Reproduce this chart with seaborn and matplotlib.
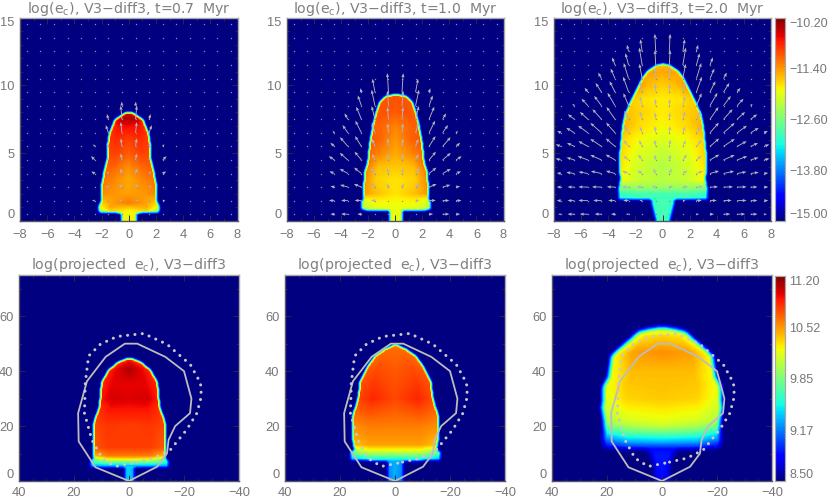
import numpy as np
import matplotlib
matplotlib.use("Agg")
import matplotlib.pyplot as plt
import seaborn as sns

# bubble outlines: height, half width
z_07 = [0, 0.5, 0.6, 1.0, 1.4, 2.5, 3.5, 4.5, 5.5, 6.45, 7.45, 7.8, 7.95, 8]
w_07 = [0.55, 0.55, 2.25, 2.25, 2.05, 2.05, 1.87, 1.63, 1.6, 1.45, 1.05, 0.55, 0.3, 0]
z_10 = [0, 0.7, 0.75, 1.4, 1.5, 2, 3.5, 4.25, 5.7, 7, 7.95, 8.7, 9.2, 9.35]
w_10 = [0.5, 0.5, 2.55, 2.55, 2.4, 2.4, 2.35, 2.1, 1.95, 1.72, 1.5, 1.25, 0.75, 0]
z_20 = [0, 1, 1.5, 1.55, 2.3, 3, 4, 5, 6, 7, 7.95, 8.9, 10, 10.65, 11.15, 11.5, 11.6]
w_20 = [0.55, 0.8, 0.9, 3.3, 3.3, 3.15, 3.25, 3.2, 3.1, 3.0, 2.8, 2.35, 1.8, 1.5, 1.05, 0.5, 0]

y_p1 = [0, 4.6, 4.7, 7.2, 7.6, 11, 20, 23, 26, 31, 35.5, 40, 42.8, 44.3, 44.6]
w_p1 = [2, 2, 14.3, 14.2, 13, 13.1, 13.2, 12.5, 11.2, 10.6, 10.3, 7.9, 4.7, 1.5, 0]
y_p2 = [0, 6.9, 7, 10.3, 10.8, 16, 24.6, 27, 31, 35.8, 41.8, 45.5, 47.9, 49.3, 49.5]
w_p2 = [3, 3, 16.4, 16.4, 15, 15.8, 15.5, 14.5, 13.5, 13, 10.1, 7.4, 3.9, 1, 0]
y_p3 = [0, 5, 9, 11, 11.5, 15, 20, 26, 34.5, 38, 45.5, 47.9, 51.6, 54.6, 55.8, 56.3]
w_p3 = [3, 3, 4, 5.7, 21.3, 21.5, 21, 21.8, 21.5, 19.5, 18.5, 16, 11.8, 8.7, 4, 0]

# colour values inside the bubbles: height, then centre / part way / rim
u_cols = [0, 0.6, 1]
zv_07 = [0, 0.5, 0.7, 1, 1.3, 2, 3, 4, 5, 6, 7, 7.6, 8]
v_07 = [[-11.9, -11.9, -11.9], [-11.9, -11.9, -11.9], [-11.9, -11.7, -12.4], [-11.6, -11.5, -12.0],
        [-11.25, -11.45, -11.7], [-11.45, -11.4, -11.3], [-11.5, -11.3, -11.2], [-11.35, -11.15, -11.1],
        [-11.1, -10.95, -11.0], [-10.95, -10.85, -10.95], [-10.7, -10.7, -10.9], [-10.35, -10.45, -10.8],
        [-10.6, -10.7, -10.9]]
zv_10 = [0, 0.7, 1, 1.5, 2, 3, 4, 5, 6, 7, 8, 9, 9.35]
v_10 = [[-12.0, -12.0, -12.1], [-11.95, -11.95, -12.1], [-11.95, -12.0, -12.3], [-11.9, -11.85, -12.0],
        [-11.8, -11.6, -11.4], [-11.8, -11.7, -11.3], [-11.65, -11.6, -11.2], [-11.5, -11.3, -11.15],
        [-11.4, -11.15, -11.05], [-11.3, -11.15, -11.1], [-11.1, -11.05, -11.1], [-11.05, -11.05, -11.1],
        [-11.1, -11.1, -11.2]]
zv_20 = [0, 1.5, 1.7, 2, 2.5, 3, 4, 5, 6, 7, 8, 9, 10, 11, 11.6]
v_20 = [[-12.9, -13.0, -13.3], [-12.9, -12.95, -13.2], [-13.0, -13.0, -13.2], [-12.9, -12.9, -13.0],
        [-12.4, -12.4, -12.5], [-12.25, -12.15, -11.9], [-12.3, -12.1, -11.75], [-12.2, -12.0, -11.7],
        [-12.05, -11.9, -11.7], [-11.9, -11.75, -11.5], [-11.85, -11.7, -11.6], [-11.85, -11.8, -11.65],
        [-11.7, -11.6, -11.4], [-11.5, -11.45, -11.6], [-11.6, -11.6, -11.7]]

yv_p1 = [0, 4.7, 5.5, 7, 8, 9, 12, 20, 25, 30, 35, 41, 44, 45]
v_p1 = [[9.4, 9.3, 9.2], [9.4, 9.3, 9.2], [9.35, 9.35, 9.3], [9.9, 9.9, 9.6], [10.35, 10.3, 10.0],
        [10.6, 10.6, 10.4], [10.78, 10.78, 10.7], [10.78, 10.8, 10.75], [10.88, 10.88, 10.8],
        [10.98, 11.0, 10.88], [10.95, 10.95, 10.85], [11.1, 10.95, 10.85], [10.9, 10.85, 10.8], [10.85, 10.8, 10.75]]
yv_p2 = [0, 6.5, 7, 9, 11, 13, 20, 30, 40, 48, 49.5]
v_p2 = [[9.3, 9.2, 9.1], [9.3, 9.25, 9.1], [9.3, 9.3, 9.2], [9.8, 9.8, 9.5], [10.2, 10.2, 10.0],
        [10.5, 10.5, 10.4], [10.6, 10.6, 10.55], [10.75, 10.85, 10.75], [10.7, 10.75, 10.7],
        [10.65, 10.65, 10.6], [10.6, 10.6, 10.55]]
yv_p3 = [0, 5, 9, 11.5, 14, 18, 20, 22, 30, 40, 47, 53, 56.5]
v_p3 = [[8.85, 8.8, 8.75], [8.88, 8.85, 8.75], [8.9, 8.9, 8.8], [8.85, 8.85, 8.7], [9.3, 9.25, 9.0],
        [9.85, 9.8, 9.55], [10.1, 10.0, 9.85], [10.2, 10.15, 10.0], [10.38, 10.35, 10.15], [10.42, 10.42, 10.2],
        [10.55, 10.5, 10.2], [10.35, 10.3, 10.05], [9.9, 9.8, 9.6]]

# arrow lengths in tenths of a kpc, rows z = 0.5, 1.5, ...; columns arrow_x (mirrored)
arrow_x = [0.5, 1.5, 2.5, 3.5, 4.5, 5.5, 6.5, 7.5]
arrow_z = [0.5, 1.5, 2.5, 3.5, 4.5, 5.5, 6.5, 7.5, 8.5, 9.5, 10.5, 11.5, 12.5, 13.5, 14.5]
len_07 = [[0, 0, 0], [2, 1, 2], [3, 2, 1], [4, 2, 3], [5, 2, 4], [6, 3, 2], [8, 6, 1], [10, 4], [3]]
len_10 = [[0, 1, 3, 5, 3], [1, 3, 5, 5, 4, 1], [3, 4, 6, 6, 3, 1], [4, 5, 7, 7, 4, 1], [5, 5, 8, 8, 5, 1],
          [6, 6, 9, 9, 4], [7, 8, 10, 7, 2], [9, 10, 10, 5], [11, 12, 8, 1], [14, 10, 3], [1]]
len_20 = [[0, 0, 2, 3, 5, 6, 5, 2], [1, 2, 4, 5, 6, 7, 5, 3], [3, 4, 5, 6, 7, 7, 5, 3], [4, 4, 5, 7, 8, 7, 6, 3],
          [4, 5, 5, 8, 9, 8, 6, 4], [5, 5, 6, 9, 10, 8, 6, 4], [5, 5, 6, 10, 11, 9, 7, 3],
          [5, 6, 7, 11, 10, 8, 6, 1], [5, 7, 10, 11, 9, 7, 2], [6, 8, 12, 9, 8, 4], [8, 11, 12, 8, 5, 1],
          [11, 13, 9, 6, 1], [13, 9, 5, 1], [1, 1]]
centre_z = [2.0, 1.5, 2.5]

# overlay lines in the projected panels
solid_x = [0, 12.2, 18.3, 18.5, 15.3, 8.5, 1.5, -3, -13.2, -20, -22.7, -22.2, -16.8, -14.4, -13.8, -10.2, 0]
solid_y = [0, 5, 14.4, 24.7, 36.3, 45.2, 50, 50, 45.2, 40, 30, 24.7, 20, 15, 10, 5.2, 0]
dots_x = [-1, 5, 9.8, 13.5, 16.2, 15.9, 14.7, 10.4, 4.4, -5.3, -13.8, -22.3, -26, -26.3, -24.7, -21, -15, -9, -1]
dots_y = [6.5, 5.3, 8.3, 15, 24.7, 35.7, 45.5, 49.8, 52.6, 53.7, 49.8, 42.4, 35.7, 30.8, 24.7, 18.7, 11.3, 8.3, 6.5]

top_titles = ["log(e$_{\\rm c}$), V3\u2212diff3, t=0.7  Myr", "log(e$_{\\rm c}$), V3\u2212diff3, t=1.0  Myr",
              "log(e$_{\\rm c}$), V3\u2212diff3, t=2.0  Myr"]
bot_title = "log(projected  e$_{\\rm c}$), V3\u2212diff3"
top_cb_ticks = [-15.0, -13.8, -12.6, -11.4, -10.2]
bot_cb_ticks = [8.5, 9.17, 9.85, 10.52, 11.2]

GREY = "#777777"
EDGE = "#a8a8a8"
DARK = "#2a2a3a"
ARROW = "#b4b4bc"

sns.set_style("white")
plt.rcParams["font.family"] = ["Liberation Sans", "DejaVu Sans"]


def make_field(xr, yr, z, w, zv, v, vmin, nx, ny, blur):
    xs = np.linspace(xr[0], xr[1], nx)
    ys = np.linspace(yr[0], yr[1], ny)
    hw = np.interp(ys, z, w, right=0)
    v = np.array(v)
    cols = np.array([np.interp(ys, zv, v[:, j]) for j in range(3)])
    field = np.zeros((ny, nx))
    soft = np.zeros((ny, nx))
    for i in range(ny):
        u = np.abs(xs) / max(hw[i], 1e-6)
        field[i] = np.interp(np.clip(u, 0, 1), u_cols, cols[:, i])
        soft[i] = np.abs(xs) < hw[i]
    # soften the edge of the bubble
    kernel = np.ones(blur) / blur
    soft = np.pad(soft, blur, mode="edge")
    soft = np.apply_along_axis(lambda a: np.convolve(a, kernel, mode="same"), 0, soft)
    soft = np.apply_along_axis(lambda a: np.convolve(a, kernel, mode="same"), 1, soft)
    soft = soft[blur:-blur, blur:-blur]
    return vmin + (field - vmin) * soft


def px_axes(fig, x0, x1, y0, y1):
    return fig.add_axes([x0 / 830, 1 - y1 / 499, (x1 - x0) / 830, (y1 - y0) / 499])


def style_axes(ax, xr, yr, xt, yt, xminor, yminor, xpad):
    ax.set_xlim(xr)
    ax.set_ylim(yr)
    ax.patch.set_alpha(0)
    ax.set_xticks(xt)
    ax.set_yticks(yt)
    ax.set_xticks(xminor, minor=True)
    ax.set_yticks(yminor, minor=True)
    ax.set_xticklabels([str(t).replace("-", "\u2212") for t in xt])
    ax.set_yticklabels([str(t) for t in yt])
    ax.tick_params(which="major", direction="in", length=4, width=0.7, color=DARK, top=True, right=True,
                   bottom=True, left=True, labelsize=9.3, labelcolor=GREY)
    ax.tick_params(which="minor", direction="in", length=2, width=0.6, color=DARK, top=True, right=True,
                   bottom=True, left=True)
    ax.tick_params(axis="x", which="major", pad=xpad)
    ax.tick_params(axis="y", which="major", pad=4)
    labs = ax.get_yticklabels()
    labs[0].set_va("bottom")
    if yt[-1] == yr[1]:
        labs[-1].set_va("top")
    for side, s in ax.spines.items():
        s.set_color(EDGE if side in ("top", "right") else "#555566")
        s.set_linewidth(1)


def style_cbar(cax, ticks):
    cax.yaxis.set_ticks_position("right")
    cax.tick_params(length=0, labelsize=9.0, labelcolor=GREY, pad=3)
    cax.set_yticks(ticks)
    cax.set_yticklabels([("%.2f" % t).replace("-", "\u2212") for t in ticks])
    labs = cax.get_yticklabels()
    labs[0].set_va("bottom")
    labs[-1].set_va("top")
    for s in cax.spines.values():
        s.set_visible(True)
        s.set_color(EDGE)
        s.set_linewidth(0.8)


def draw_arrows(ax, lengths, z0):
    xs, zs, dx, dz = [], [], [], []
    for i, zz in enumerate(arrow_z):
        row = lengths[i] if i < len(lengths) else []
        for j, xx in enumerate(arrow_x):
            ln = row[j] if j < len(row) else 0
            for sign in (-1, 1):
                xs.append(sign * xx)
                zs.append(zz)
                d = np.array([sign * xx, max(zz - z0, 0.1)])
                d = d / np.hypot(d[0], d[1]) * ln / 10
                dx.append(d[0])
                dz.append(d[1])
    xs, zs, dx, dz = map(np.array, (xs, zs, dx, dz))
    ax.scatter(xs, zs, s=1.0, color="#8a90b0", linewidths=0, zorder=3)
    on = np.hypot(dx, dz) > 0.15
    ax.quiver(xs[on], zs[on], dx[on], dz[on], angles="xy", scale_units="xy", scale=1, units="dots",
              width=0.9, headwidth=3.6, headlength=4.5, headaxislength=4, color=ARROW, zorder=4)


fig = plt.figure(figsize=(8.3, 4.99), dpi=100)

top_boxes = [(20, 237.5), (287, 503.5), (554, 771)]
top_data = [(z_07, w_07, zv_07, v_07, len_07), (z_10, w_10, zv_10, v_10, len_10), (z_20, w_20, zv_20, v_20, len_20)]
for k in range(3):
    x0, x1 = top_boxes[k]
    z, w, zv, v, lens = top_data[k]
    field = make_field((-8, 8), (0, 15), z, w, zv, v, -15.0, 217, 203, 4)
    hax = px_axes(fig, x0, x1, 17.5, 221)
    if k == 2:
        cax = px_axes(fig, 775, 785, 17.5, 221)
        sns.heatmap(field, ax=hax, cmap="jet", vmin=-15, vmax=-10.2, cbar=True, cbar_ax=cax,
                    xticklabels=False, yticklabels=False)
        style_cbar(cax, top_cb_ticks)
    else:
        sns.heatmap(field, ax=hax, cmap="jet", vmin=-15, vmax=-10.2, cbar=False,
                    xticklabels=False, yticklabels=False)
    hax.invert_yaxis()
    ax = px_axes(fig, x0, x1, 17.5, 221)
    style_axes(ax, (-8, 8), (0, 15), list(range(-8, 9, 2)), [0, 5, 10, 15],
               list(range(-8, 9)), list(range(0, 16)), 6)
    draw_arrows(ax, lens, centre_z[k])
    fig.text((x0 + x1) / 2 / 830, 1 - 9 / 499, top_titles[k], ha="center", va="center", fontsize=10.2,
             color="#808080", family="DejaVu Sans")

bot_boxes = [(19, 239), (285, 505), (552, 772)]
bot_data = [(y_p1, w_p1, yv_p1, v_p1, 4), (y_p2, w_p2, yv_p2, v_p2, 4), (y_p3, w_p3, yv_p3, v_p3, 7)]
for k in range(3):
    x0, x1 = bot_boxes[k]
    z, w, zv, v, blur = bot_data[k]
    field = make_field((40, -40), (0, 75), z, w, zv, v, 8.5, 220, 206, blur)
    hax = px_axes(fig, x0, x1, 275, 481)
    if k == 2:
        cax = px_axes(fig, 775, 785, 276, 481)
        sns.heatmap(field, ax=hax, cmap="jet", vmin=8.5, vmax=11.2, cbar=True, cbar_ax=cax,
                    xticklabels=False, yticklabels=False)
        style_cbar(cax, bot_cb_ticks)
    else:
        sns.heatmap(field, ax=hax, cmap="jet", vmin=8.5, vmax=11.2, cbar=False,
                    xticklabels=False, yticklabels=False)
    hax.invert_yaxis()
    ax = px_axes(fig, x0, x1, 275, 481)
    style_axes(ax, (40, -40), (0, 75), [40, 20, 0, -20, -40], [0, 20, 40, 60],
               list(range(40, -41, -5)), list(range(0, 75, 10)), 4.5)
    ax.plot(solid_x, solid_y, color="#bdbdbd", lw=1.3, zorder=4)
    ax.plot(dots_x, dots_y, color="#c8c8c8", lw=2.2, linestyle=(0, (0.01, 2.4)), dash_capstyle="round", zorder=4)
    fig.text((x0 + x1) / 2 / 830, 1 - 265 / 499, bot_title, ha="center", va="center", fontsize=10.2,
             color="#808080", family="DejaVu Sans")

fig.savefig("out.png", dpi=100)
